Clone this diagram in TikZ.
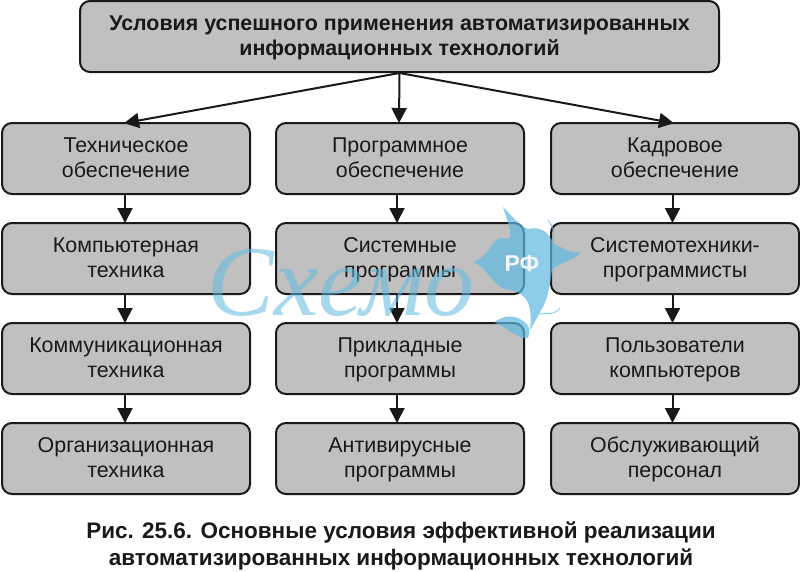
\documentclass[tikz,border=0pt]{standalone}
\usepackage{fontspec}
\setmainfont{Liberation Sans}
\newfontfamily\wmfont{Liberation Serif}
\usetikzlibrary{arrows.meta}
\definecolor{boxgray}{RGB}{192,192,192}
\definecolor{wmblue}{RGB}{95,185,225}
\newcommand\oneline[1]{\rule[-5.5pt]{0pt}{19.5pt}\smash{\raisebox{-2.6pt}{#1}}}
\newcommand\twolines[2]{\oneline{#1}\\\oneline{#2}}
\tikzset{
 x=1pt,y=-1pt,
 box/.style={draw=black!90,line width=2pt,fill=boxgray,rounded corners=10pt,minimum width=248pt,minimum height=71pt,inner sep=0pt,align=center,font=\fontsize{21.4}{25}\selectfont,text=black!90},
 topbox/.style={box,minimum width=639pt,font=\fontsize{21.4}{25}\selectfont\bfseries},
 conn/.style={draw=black!90,line width=2pt,-{Triangle[length=15pt,width=15pt]},shorten >=-1pt}
}
\begin{document}
\begin{tikzpicture}
\useasboundingbox (0,0) rectangle (800,571);
\fill[white] (0,0) rectangle (800,571);
\node[topbox] (top) at (399.5,36.5) {\twolines{Условия успешного применения автоматизированных}{информационных технологий}};
\node[box] (a1) at (126,158.5) {\twolines{Техническое}{обеспечение}};
\node[box] (b1) at (400,158.5) {\twolines{Программное}{обеспечение}};
\node[box] (c1) at (675,158.5) {\twolines{Кадровое}{обеспечение}};
\node[box] (a2) at (126,258.5) {\twolines{Компьютерная}{техника}};
\node[box] (b2) at (400,258.5) {\twolines{Системные}{программы}};
\node[box] (c2) at (675,258.5) {\twolines{Системотехники-}{программисты}};
\node[box] (a3) at (126,358.5) {\twolines{Коммуникационная}{техника}};
\node[box] (b3) at (400,358.5) {\twolines{Прикладные}{программы}};
\node[box] (c3) at (675,358.5) {\twolines{Пользователи}{компьютеров}};
\node[box] (a4) at (126,458.5) {\twolines{Организационная}{техника}};
\node[box] (b4) at (400,458.5) {\twolines{Антивирусные}{программы}};
\node[box] (c4) at (675,458.5) {\twolines{Обслуживающий}{персонал}};
\coordinate (tl) at (125,123);
\coordinate (tr) at (673,123);
\draw[conn] (top.south) -- (tl);
\draw[conn] (top.south) -- ([xshift=-1pt]b1.north);
\draw[conn] (top.south) -- (tr);
\foreach \c/\s in {a/-1pt,b/-3pt,c/-2.5pt}{
 \draw[conn] ([xshift=\s]\c1.south) -- ([xshift=\s]\c2.north);
 \draw[conn] ([xshift=\s]\c2.south) -- ([xshift=\s]\c3.north);
 \draw[conn] ([xshift=\s]\c3.south) -- ([xshift=\s]\c4.north);
}
\node[font=\fontsize{22.5}{27}\selectfont\bfseries,align=center,text=black!90,inner sep=0pt] (cap) at (401,546) {Рис. 25.6. Основные условия эффективной реализации\\автоматизированных информационных технологий};
% watermark
\begin{scope}[opacity=.7,transparency group]
\fill[wmblue] (473,262) .. controls (490,256) and (488,245) .. (497,240) .. controls (503,236) and (505,240) .. (510,238) .. controls (512,228) and (505,216) .. (503,207) .. controls (512,216) and (520,226) .. (528,229) .. controls (540,226) and (549,232) .. (553,243) .. controls (562,248) and (572,254) .. (581,252) .. controls (572,262) and (560,262) .. (552,270) .. controls (550,285) and (548,300) .. (540,312) .. controls (536,320) and (533,325) .. (530,330) .. controls (533,300) and (525,292) .. (505,289) .. controls (492,285) and (488,268) .. (473,262) -- cycle;
\fill[wmblue] (494,322) .. controls (505,315) and (512,316) .. (518,318) .. controls (526,322) and (532,326) .. (528,338) .. controls (520,340) and (510,330) .. (494,322) -- cycle;
\draw[wmblue,line width=1pt] (535,316) .. controls (545,310) and (552,318) .. (560,308);
\draw[wmblue,line width=1pt] (553,243) .. controls (556,232) and (552,225) .. (548,220);
\end{scope}
\node[opacity=.55,font=\wmfont\itshape\fontsize{100}{100}\selectfont,text=wmblue,inner sep=0pt] (wm) at (341,283) {Схемо};
\node[font=\fontsize{23}{23}\selectfont\bfseries,text=white!92!wmblue,inner sep=0pt] (rf) at (522,264) {РФ};
\end{tikzpicture}
\end{document}
